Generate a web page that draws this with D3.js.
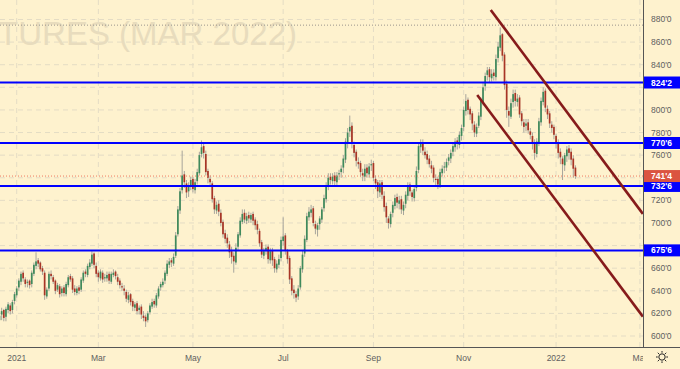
<!DOCTYPE html>
<html><head><meta charset="utf-8">
<script src="https://cdn.jsdelivr.net/npm/d3@7"></script>
<style>html,body{margin:0;padding:0;background:#FEF2CE;overflow:hidden}</style>
</head><body>
<script>
// Daily candles (bar index 0 = late Dec 2020), prices in cents
const opens = [
614,619,623,617,623,627,623,631,636,643, 648,656,650,647,649,646,655,662,667,665,
660,656,635,642,655,652,649,641,644,638, 643,637,645,653,651,642,638,643,641,649,
657,654,661,664,673,662,656,651,656,651, 651,655,648,654,657,652,649,644,642,639,
632,637,631,625,629,623,626,618,617,614, 621,626,631,627,635,643,645,649,655,663,
667,664,671,690,711,729,743,735,728,732, 739,729,737,744,761,768,761,746,739,735,
722,711,717,709,701,691,687,681,675,671, 665,679,689,701,709,702,707,703,708,703,
699,693,683,671,676,679,667,676,668,659, 663,669,684,689,675,669,651,641,637,635,
643,659,673,685,705,709,713,699,694,699, 703,713,721,732,741,737,742,736,743,745,
749,756,771,781,786,769,763,754,753,744, 741,749,743,751,753,739,736,727,736,724,
715,704,699,709,715,723,717,721,711,717, 724,734,727,722,731,747,767,771,763,761,
757,751,749,739,739,733,744,749,749,755, 757,763,767,773,769,777,785,799,809,801,
797,787,779,786,794,807,821,831,836,828, 833,829,846,855,867,849,823,799,794,807,
815,807,811,797,789,786,789,781,777,771, 761,771,789,807,817,801,797,787,785,777,
771,763,757,751,759,766,763,757,749];
const highs = [
621,625,624,626,630,629,632,639,644,651, 657,658,652,650,650,658,665,674,669,666,
662,658,643,657,658,654,650,647,646,644, 645,648,654,655,653,645,644,645,652,658,
659,664,668,675,674,665,658,659,658,655, 657,657,657,659,658,655,651,647,645,641,
639,638,633,630,631,627,628,622,619,622, 629,633,633,638,644,648,651,658,667,669,
669,673,692,715,731,764,746,738,736,741, 741,739,748,763,773,770,764,748,742,737,
724,719,720,712,703,694,690,684,679,674, 682,692,705,712,712,709,710,709,710,705,
702,695,685,678,681,681,678,678,670,667, 672,688,705,691,677,671,653,645,640,645,
662,676,689,709,714,716,715,702,700,706, 714,725,736,744,744,744,745,745,747,751,
760,775,784,795,789,772,765,758,755,748, 752,752,753,756,755,742,738,738,738,728,
718,706,710,719,725,726,724,724,719,728, 736,736,729,733,750,771,774,774,767,764,
760,755,751,743,741,748,751,754,757,761, 765,770,775,776,781,787,803,814,811,803,
799,790,788,798,811,824,833,838,838,836, 836,849,860,873,868,851,826,803,810,818,
818,814,813,799,792,792,792,784,780,774, 775,793,811,820,819,804,799,790,787,779,
774,766,759,762,768,769,766,760,751];
const lows = [
610,614,613,613,620,619,620,628,634,640, 645,648,643,643,642,643,653,659,661,657,
654,632,633,640,650,646,637,639,634,635, 635,635,643,648,638,636,636,637,639,647,
652,652,659,662,660,652,648,649,647,648, 648,646,646,652,650,645,642,640,636,630,
629,627,622,622,619,619,615,613,608,612, 619,624,625,625,633,640,643,646,653,660,
661,662,669,688,708,726,731,722,723,729, 727,726,734,742,758,757,742,735,732,718,
708,708,706,697,687,682,678,669,664,656, 663,676,687,699,700,699,700,700,698,694,
690,679,669,668,672,664,664,662,656,656, 660,666,680,672,664,646,636,633,630,632,
641,656,670,683,702,705,697,690,688,694, 700,710,718,729,734,734,732,732,738,740,
744,753,766,776,766,758,750,748,741,737, 737,740,740,746,737,730,722,723,721,710,
700,695,696,705,712,713,712,708,707,713, 720,724,719,719,728,744,762,760,757,752,
749,744,736,733,730,731,741,744,746,751, 753,759,763,765,766,773,781,795,796,791,
782,776,776,784,791,804,817,826,824,825, 826,826,842,852,843,818,793,785,792,802,
803,803,793,786,780,781,779,774,765,756, 758,768,786,804,798,792,784,780,774,766,
757,752,738,746,754,756,751,740,739];
const closes = [
618,622,616,624,628,622,630,637,642,649, 655,651,646,648,645,656,663,666,664,659,
657,636,641,655,653,648,640,645,637,642, 638,646,652,650,641,639,642,640,650,656,
655,662,665,672,663,655,652,657,650,652, 654,649,655,656,653,648,645,643,640,633,
636,630,626,628,622,625,619,616,613,620, 627,630,628,636,642,646,648,656,664,666,
665,670,689,712,728,742,736,727,733,738, 730,736,745,760,767,762,745,740,736,721,
712,716,710,700,690,686,682,674,670,666, 678,690,702,708,703,706,704,707,702,698,
694,682,672,675,678,668,675,667,660,664, 668,685,688,676,668,650,640,638,634,642,
660,672,686,706,710,712,700,695,698,704, 712,722,733,740,738,741,737,742,744,748,
757,772,780,785,770,762,755,752,745,742, 748,744,750,752,740,735,728,735,725,714,
705,700,708,716,722,718,720,712,716,725, 733,728,723,730,746,768,770,764,760,756,
752,748,740,738,734,745,748,750,754,758, 762,768,772,770,778,784,800,808,800,796,
788,780,785,795,808,820,830,835,829,832, 830,845,856,866,848,822,800,795,806,814,
808,810,796,790,785,788,782,778,770,762, 772,790,808,816,802,796,788,784,778,770,
762,758,752,760,765,762,756,748,741.5];

const priceTicks = [600,620,640,660,680,700,720,740,760,780,800,820,840,860,880];
const monthTickIdx = [8,46,90,132,174,216,259,298];
const monthLabels = ["2021","Mar","May","Jul","Sep","Nov","2022","Mar"];
const levelPrices = [824.25, 770.75, 732.75, 675.75];
const lastPrice = 741.5;
const highMarker = 875;
const channelUpper = [[228.6, 888.4], [299.4, 708]];
const channelLower = [[222.3, 813.2], [299.4, 617.1]];
const watermark = "FUTURES (MAR 2022)";

const W = 680, H = 369, axisX = 643, axisY = 347;
const x = d3.scaleLinear().domain([0, 300]).range([-0.5, -0.5 + 300 * 2.149]);
const y = d3.scaleLinear().domain([600, 880]).range([336, 19.5]);
const fmt = p => { const w = Math.floor(p + 1e-9); return w + "'" + Math.round((p - w) * 8); };

const svg = d3.select("body").append("svg").attr("width", W).attr("height", H)
  .style("font-family", "'Liberation Sans', Arial, sans-serif");
svg.append("rect").attr("width", W).attr("height", H).attr("fill", "#FEF2CE");

svg.append("defs").append("clipPath").attr("id", "plot")
  .append("rect").attr("x", 0).attr("y", 0).attr("width", axisX).attr("height", axisY);

const plot = svg.append("g").attr("clip-path", "url(#plot)");

// watermark
plot.append("text").attr("x", 297).attr("y", 45).attr("text-anchor", "end")
  .attr("font-size", 33).attr("fill", "#E8DCBD").text(watermark);

// grid
plot.append("g").selectAll("line").data(priceTicks).join("line")
  .attr("x1", 0).attr("x2", axisX).attr("y1", d => y(d)).attr("y2", d => y(d))
  .attr("stroke", "#E4DCC4").attr("stroke-dasharray", "5,4");
plot.append("g").selectAll("line").data(monthTickIdx).join("line")
  .attr("x1", d => x(d)).attr("x2", d => x(d)).attr("y1", 0).attr("y2", axisY)
  .attr("stroke", "#E4DCC4").attr("stroke-dasharray", "5,4");

// high marker dotted line
plot.append("line").attr("x1", 0).attr("x2", axisX).attr("y1", y(highMarker)).attr("y2", y(highMarker))
  .attr("stroke", "#9a968c").attr("stroke-dasharray", "1,2");

// candles
const bars = d3.range(closes.length).map(i => ({i, o: opens[i], h: highs[i], l: lows[i], c: closes[i]}));
const cg = plot.append("g");
cg.selectAll("line").data(bars).join("line")
  .attr("x1", d => x(d.i)).attr("x2", d => x(d.i))
  .attr("y1", d => y(Math.max(d.h, d.o, d.c))).attr("y2", d => y(Math.min(d.l, d.o, d.c)))
  .attr("stroke", "#a7a59c").attr("stroke-width", 1);
cg.selectAll("rect").data(bars).join("rect")
  .attr("x", d => x(d.i) - 0.85).attr("width", 1.7)
  .attr("y", d => y(Math.max(d.o, d.c)))
  .attr("height", d => Math.max(0.8, Math.abs(y(d.o) - y(d.c))))
  .attr("fill", d => d.c >= d.o ? "#3f8a5c" : "#a83526");

// last price dotted line
plot.append("line").attr("x1", 0).attr("x2", axisX).attr("y1", y(lastPrice)).attr("y2", y(lastPrice))
  .attr("stroke", "#EE7B62").attr("stroke-dasharray", "1,2");

// horizontal levels
plot.append("g").selectAll("line").data(levelPrices).join("line")
  .attr("x1", 0).attr("x2", axisX).attr("y1", d => y(d)).attr("y2", d => y(d))
  .attr("stroke", "#0000FF").attr("stroke-width", 2);

// channel lines
const ln = d3.line().x(d => x(d[0])).y(d => y(d[1]));
plot.append("g").selectAll("path").data([channelUpper, channelLower]).join("path")
  .attr("d", ln).attr("fill", "none").attr("stroke", "#861B1B").attr("stroke-width", 2.6);

// axes lines
svg.append("line").attr("x1", axisX + 0.5).attr("x2", axisX + 0.5).attr("y1", 0).attr("y2", axisY)
  .attr("stroke", "#555").attr("stroke-width", 1);
svg.append("line").attr("x1", 0).attr("x2", W).attr("y1", axisY + 0.5).attr("y2", axisY + 0.5)
  .attr("stroke", "#555").attr("stroke-width", 1);

// level boxes (drawn over the axis; tick labels hidden behind them are skipped)
const boxes = levelPrices.map(p => ({p, col: "#0000FF"})).concat([{p: lastPrice, col: "#DB5441"}]);
const visibleTicks = priceTicks.filter(t => boxes.every(b => Math.abs(y(t) - y(b.p)) > 9));

svg.append("g").selectAll("text").data(visibleTicks).join("text")
  .attr("x", 651).attr("y", d => y(d)).attr("dy", "0.35em")
  .attr("font-size", 8.5).attr("fill", "#606060").text(d => fmt(d));

const bg = svg.append("g").selectAll("g").data(boxes).join("g")
  .attr("transform", d => `translate(${axisX + 1},${y(d.p)})`);
bg.append("rect").attr("x", 0).attr("y", -6).attr("width", 37).attr("height", 12).attr("fill", d => d.col);
bg.append("text").attr("x", 7).attr("dy", "0.35em").attr("font-size", 8.5).attr("font-weight", "bold")
  .attr("fill", "#fff").text(d => fmt(d.p));

// time axis labels
svg.select("defs").append("clipPath").attr("id", "tclip")
  .append("rect").attr("x", 0).attr("y", axisY).attr("width", axisX).attr("height", H - axisY);
const tg = svg.append("g").attr("clip-path", "url(#tclip)");
tg.selectAll("text").data(monthTickIdx).join("text")
  .attr("x", d => x(d)).attr("y", 358).attr("dy", "0.35em").attr("text-anchor", "middle")
  .attr("font-size", 8.5).attr("fill", "#606060").text((d, i) => monthLabels[i]);

// settings icon
const sun = svg.append("g").attr("transform", "translate(662,357)")
  .attr("stroke", "#222").attr("fill", "none").attr("stroke-width", 1);
sun.append("circle").attr("r", 3.2);
sun.selectAll("line").data(d3.range(8)).join("line")
  .attr("x1", d => 4.3 * Math.cos(d * Math.PI / 4)).attr("y1", d => 4.3 * Math.sin(d * Math.PI / 4))
  .attr("x2", d => 6 * Math.cos(d * Math.PI / 4)).attr("y2", d => 6 * Math.sin(d * Math.PI / 4));
</script>
</body></html>
